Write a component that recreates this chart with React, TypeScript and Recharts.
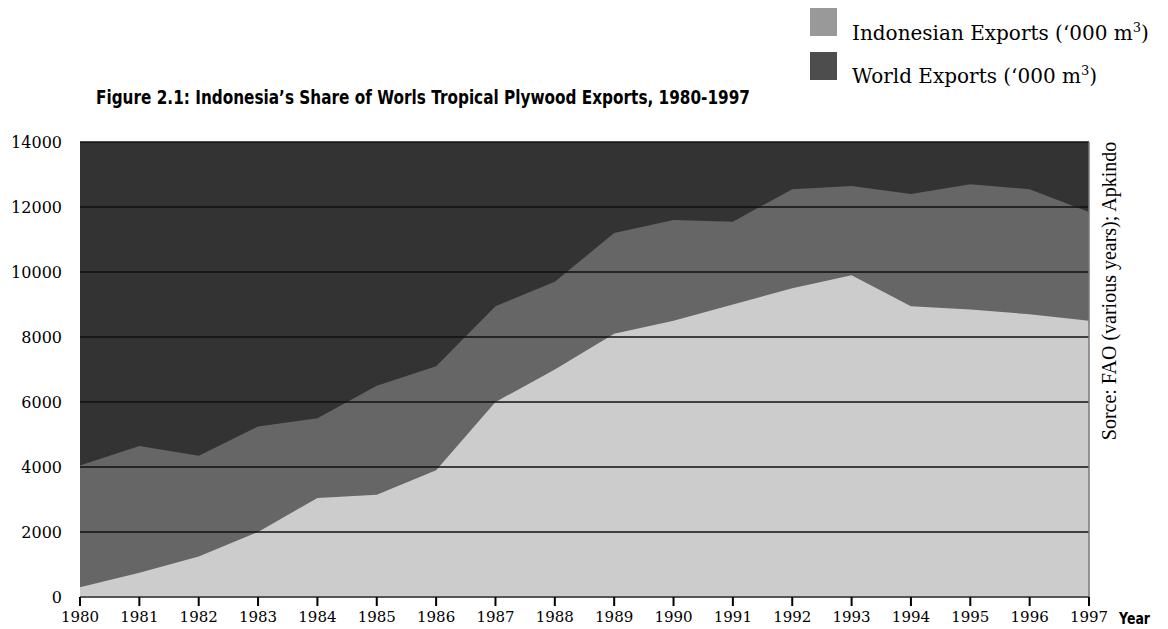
import { AreaChart, Area, XAxis, YAxis, CartesianGrid, ReferenceLine } from 'recharts'

const years = [
  1980, 1981, 1982, 1983, 1984, 1985, 1986, 1987, 1988,
  1989, 1990, 1991, 1992, 1993, 1994, 1995, 1996, 1997,
]

// '000 m3
const indonesianExports = [
  300, 750, 1250, 2000, 3050, 3150, 3900, 6000, 7000,
  8100, 8500, 9000, 9500, 9900, 8950, 8850, 8700, 8500,
]
const worldExports = [
  4050, 4650, 4350, 5250, 5500, 6500, 7100, 8950, 9700,
  11200, 11600, 11550, 12550, 12650, 12400, 12700, 12550, 11850,
]

const yTicks = [0, 2000, 4000, 6000, 8000, 10000, 12000, 14000]

const legendItems = [
  { label: 'Indonesian Exports (\u2018000 m', swatch: '#999999' },
  { label: 'World Exports (\u2018000 m', swatch: '#4d4d4d' },
]

const title = 'Figure 2.1: Indonesia\u2019s Share of Worls Tropical Plywood Exports, 1980-1997'
const sourceNote = 'Sorce: FAO (various years); Apkindo'

const W = 1168
const H = 629

const serif = "'DejaVu Serif', serif"
// no condensed face installed, so the heavy title is squeezed with textLength
const heavy = "'DejaVu Sans', sans-serif"

export default function App() {
  const data = years.map((year, i) => ({
    year,
    world: worldExports[i],
    indonesia: indonesianExports[i],
  }))

  return (
    <div style={{ position: 'absolute', left: 0, top: 0, width: W, height: H, background: '#fff' }}>
      <AreaChart
        width={W}
        height={H}
        data={data}
        margin={{ top: 142, right: 79, bottom: 0, left: 0 }}
      >
        <CartesianGrid fill="#333333" horizontal={false} vertical={false} />
        <XAxis
          dataKey="year"
          type="number"
          domain={[1980, 1997]}
          ticks={years}
          height={32}
          tickSize={9}
          tickMargin={5}
          axisLine={{ stroke: '#555', strokeWidth: 2 }}
          tickLine={{ stroke: '#000', strokeWidth: 2 }}
          tick={{ fill: '#000', fontFamily: serif, fontSize: 15 }}
          interval={0}
        />
        <YAxis
          domain={[0, 14000]}
          ticks={yTicks}
          width={80}
          axisLine={false}
          tickLine={false}
          tickMargin={12}
          tick={{ fill: '#000', fontFamily: serif, fontSize: 16 }}
          interval={0}
        />
        <Area
          type="linear"
          dataKey="world"
          stroke="none"
          fill="#666666"
          fillOpacity={1}
          isAnimationActive={false}
        />
        <Area
          type="linear"
          dataKey="indonesia"
          stroke="none"
          fill="#cccccc"
          fillOpacity={1}
          isAnimationActive={false}
        />
        {yTicks.slice(1).map((v) => (
          <ReferenceLine key={v} y={v} stroke="#111" strokeWidth={1.5} />
        ))}
        <ReferenceLine x={1997} stroke="#777" strokeWidth={1.5} />
      </AreaChart>

      <svg
        width={W}
        height={H}
        style={{ position: 'absolute', left: 0, top: 0, pointerEvents: 'none' }}
      >
        <text
          x={96}
          y={104}
          fontFamily={heavy}
          fontWeight="bold"
          fontSize={20}
          textLength={654}
          lengthAdjust="spacingAndGlyphs"
          fill="#000"
        >
          {title}
        </text>
        {legendItems.map((item, i) => (
          <g key={item.label}>
            <rect x={810} y={8 + i * 44} width={27} height={28} fill={item.swatch} />
            <text x={852} y={40 + i * 43} fontFamily={serif} fontSize={20} fill="#000">
              {item.label}
              <tspan dy={-8} fontSize={13}>3</tspan>
              <tspan dy={8}>)</tspan>
            </text>
          </g>
        ))}
        <text
          x={1116}
          y={291}
          transform="rotate(-90 1116 291)"
          textAnchor="middle"
          fontFamily="'Liberation Serif', serif"
          fontSize={20}
          fill="#000"
        >
          {sourceNote}
        </text>
        <text
          x={1119}
          y={624}
          fontFamily={heavy}
          fontWeight="bold"
          fontSize={15}
          textLength={31}
          lengthAdjust="spacingAndGlyphs"
          fill="#000"
        >
          Year
        </text>
      </svg>
    </div>
  )
}
